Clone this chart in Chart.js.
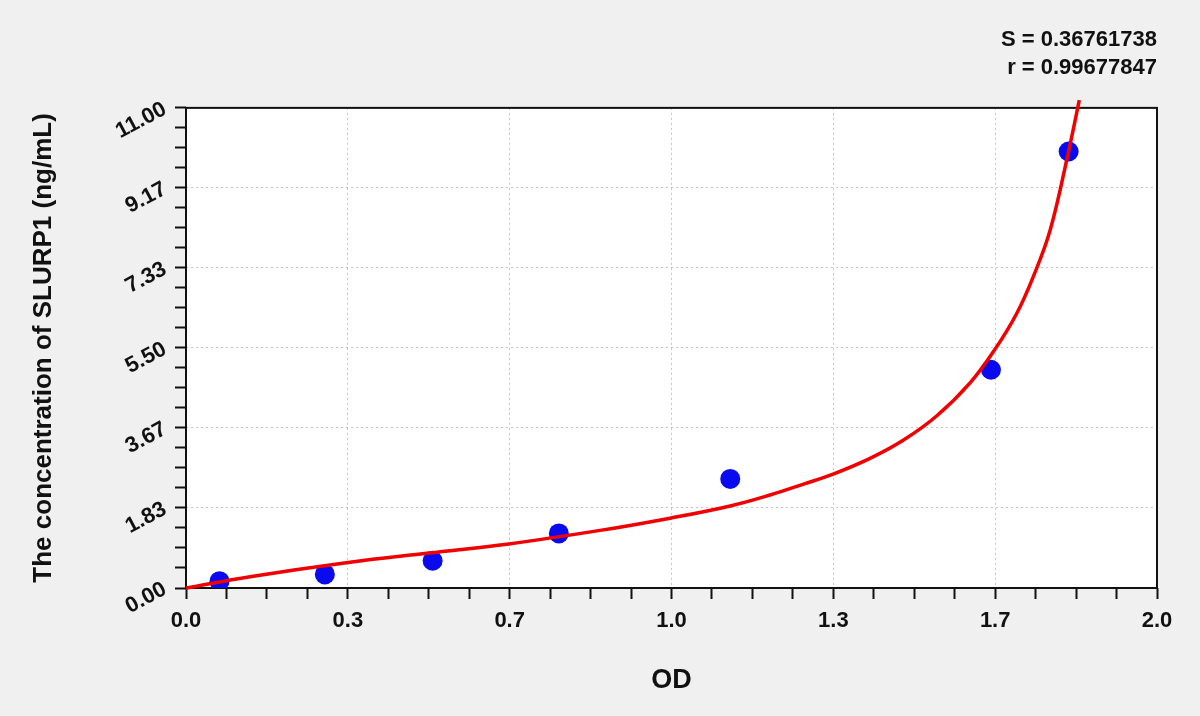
<!DOCTYPE html>
<html>
<head>
<meta charset="utf-8">
<script src="https://cdn.jsdelivr.net/npm/chart.js@4"></script>
<style>
body { margin: 0; background: #f0f0f0; }
</style>
</head>
<body>
<canvas id="chart" width="1200" height="716"></canvas>
<script>
// standards
const odValues = [0.069, 0.286, 0.508, 0.768, 1.121, 1.658, 1.818]
const concValues = [0.156, 0.312, 0.625, 1.25, 2.5, 5.0, 10.0]

// fitted curve
const fitOD = [0, 0.132, 0.33, 0.50, 0.665, 0.853, 0.997, 1.121, 1.203, 1.272, 1.333, 1.409, 1.478, 1.546, 1.615, 1.667, 1.711, 1.745, 1.780, 1.817, 1.840]
const fitConc = [0, 0.26, 0.58, 0.80, 1.01, 1.32, 1.60, 1.88, 2.13, 2.38, 2.61, 2.97, 3.39, 3.94, 4.70, 5.48, 6.29, 7.13, 8.20, 9.96, 11.18]

const xTickLabels = ['0.0', '0.3', '0.7', '1.0', '1.3', '1.7', '2.0']
const yTickLabels = ['0.00', '1.83', '3.67', '5.50', '7.33', '9.17', '11.00']
const fitStats = ['S = 0.36761738', 'r = 0.99677847']
const xMax = 2
const yMax = 11

const FONT = "'Liberation Sans', Arial, sans-serif"

function minorTicks(max) {
    return (scale) => {
        let t = []
        for (let i = 0; i <= 24; i++) t.push({value: i * max / 24})
        scale.ticks = t
    }
}

const plotFrame = {
    id: 'plotFrame',
    beforeDraw(chart) {
        const {ctx, chartArea: a} = chart
        ctx.save()
        ctx.fillStyle = '#ffffff'
        ctx.fillRect(a.left, a.top, a.right - a.left, a.bottom - a.top)
        ctx.restore()
    },
    beforeDatasetsDraw(chart) {
        const {ctx, chartArea: a} = chart
        ctx.save()
        ctx.strokeStyle = '#111'
        ctx.lineWidth = 2
        ctx.strokeRect(a.left, a.top, a.right - a.left, a.bottom - a.top)
        ctx.restore()
    }
}

const gridColor = (c) => c.index % 4 === 0 ? '#c4c4c4' : 'rgba(0,0,0,0)'

let ctx = document.getElementById('chart').getContext('2d')
const myChart = new Chart(ctx, {
    type: 'scatter',
    data: {
        datasets: [{
            label: 'fit',
            data: fitOD.map((x, i) => ({x: x, y: fitConc[i]})),
            showLine: true,
            borderColor: '#f00000',
            borderWidth: 3.5,
            pointRadius: 0,
            tension: 0.4,
            clip: false
        }, {
            label: 'standards',
            data: odValues.map((x, i) => ({x: x, y: concValues[i]})),
            backgroundColor: '#0a0af0',
            borderWidth: 0,
            pointRadius: 10
        }]
    },
    options: {
        responsive: false,
        animation: false,
        layout: { padding: { left: 0, right: 43, top: 0, bottom: 0 } },
        plugins: {
            legend: { display: false },
            tooltip: { enabled: false },
            title: {
                display: true,
                text: fitStats,
                align: 'end',
                color: '#111',
                font: { family: FONT, size: 22, weight: 'bold', lineHeight: 1.27 },
                padding: { top: 26, bottom: 26 }
            }
        },
        scales: {
            x: {
                type: 'linear',
                min: 0,
                max: xMax,
                afterBuildTicks: minorTicks(xMax),
                afterFit: (s) => { s.height = 128 },
                grid: { color: gridColor, tickColor: '#111', tickWidth: 2, tickLength: 11 },
                border: { display: false, dash: [2, 3] },
                ticks: {
                    autoSkip: false,
                    maxRotation: 0,
                    padding: 9,
                    color: '#111',
                    font: { family: FONT, size: 22, weight: 'bold' },
                    callback: (v, i) => i % 4 === 0 ? xTickLabels[i / 4] : ''
                },
                title: {
                    display: true,
                    text: 'OD',
                    color: '#111',
                    font: { family: FONT, size: 27, weight: 'bold' },
                    padding: { top: 0, bottom: 19 }
                }
            },
            y: {
                type: 'linear',
                min: 0,
                max: yMax,
                afterBuildTicks: minorTicks(yMax),
                afterFit: (s) => { s.width = 186 },
                grid: { color: gridColor, tickColor: '#111', tickWidth: 2, tickLength: 11 },
                border: { display: false, dash: [2, 3] },
                ticks: {
                    autoSkip: false,
                    minRotation: 28,
                    maxRotation: 28,
                    padding: 10,
                    color: '#111',
                    font: { family: FONT, size: 22, weight: 'bold' },
                    callback: (v, i) => i % 4 === 0 ? yTickLabels[i / 4] : ''
                },
                title: {
                    display: true,
                    text: 'The concentration of SLURP1 (ng/mL)',
                    color: '#111',
                    font: { family: FONT, size: 26, weight: 'bold' },
                    padding: { top: 28, bottom: 0 }
                }
            }
        }
    },
    plugins: [plotFrame]
})
</script>
</body>
</html>
